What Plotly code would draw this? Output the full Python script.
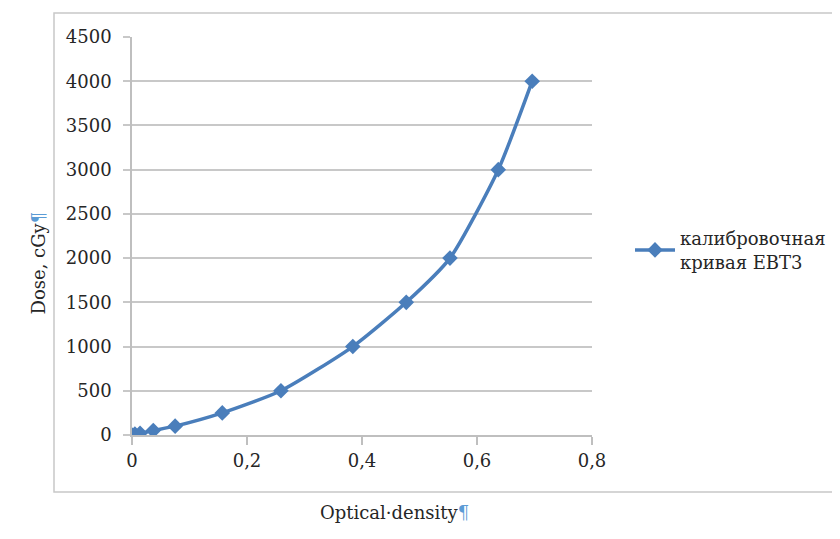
import plotly.graph_objects as go

optical_density = [0, 0.005, 0.014, 0.037, 0.075, 0.157, 0.259, 0.384, 0.477, 0.553, 0.637, 0.696]
dose_cgy = [0, 10, 20, 50, 100, 250, 500, 1000, 1500, 2000, 3000, 4000]
series_name = "калибровочная<br>кривая EBT3"
x_tickvals = [0, 0.2, 0.4, 0.6, 0.8]
x_ticktext = ["0", "0,2", "0,4", "0,6", "0,8"]
y_tickvals = [0, 500, 1000, 1500, 2000, 2500, 3000, 3500, 4000, 4500]

FONT = "DejaVu Serif"
TXT = "#262626"
BLUE = "#4a7ebb"
OFF = 8  # page body margin

fig = go.Figure()
fig.add_trace(go.Scatter(
    x=optical_density, y=dose_cgy, mode="lines+markers", name=series_name,
    line=dict(color=BLUE, width=3.5, shape="spline", smoothing=0.6),
    marker=dict(symbol="diamond", size=12, color=BLUE),
))

L, R, T, B = 132, 592, 37, 435
W, H = 840, 539

def px(xp):
    return (xp - L) / (R - L)

def py(yp):
    return (B - yp) / (B - T)

fig.update_layout(
    width=W, height=H,
    margin=dict(l=L - OFF, r=W - R + OFF, t=T - OFF, b=H - B + OFF),
    paper_bgcolor="white", plot_bgcolor="white",
    font=dict(family=FONT, size=18, color=TXT),
    showlegend=True,
    legend=dict(x=px(630), y=py(250), xanchor="left", yanchor="middle",
                font=dict(size=18, family=FONT, color=TXT),
                bgcolor="rgba(0,0,0,0)", itemwidth=40),
    xaxis=dict(range=[0, 0.8], tickvals=x_tickvals, ticktext=x_ticktext,
               tickfont=dict(family=FONT, size=18, color=TXT),
               showgrid=False, zeroline=False, showline=True, linecolor="#bfbfbf", linewidth=1.5,
               ticks="outside", ticklen=8, tickcolor="#bfbfbf", tickwidth=1.5,
               ticklabelstandoff=1),
    yaxis=dict(range=[0, 4500], tickvals=y_tickvals,
               tickfont=dict(family=FONT, size=18, color=TXT),
               showgrid=True, gridcolor="#c8c8c8", gridwidth=1.5, zeroline=False,
               showline=True, linecolor="#bfbfbf", linewidth=1.5,
               ticks="outside", ticklen=7, tickcolor="#c8c8c8", tickwidth=1.5,
               ticklabelstandoff=8),
    shapes=[dict(type="rect", xref="paper", yref="paper",
                 x0=px(54), x1=px(839), y0=py(492), y1=py(13),
                 line=dict(color="#c8c8c8", width=1.5), fillcolor="rgba(0,0,0,0)", layer="below")],
    annotations=[
        dict(text="Dose, cGy<span style='color:#5b9bd5'>¶</span>", xref="paper", yref="paper",
             x=px(25), y=py(263), textangle=-90, showarrow=False,
             font=dict(size=18, family=FONT, color=TXT)),
        dict(text="Optical·density<span style='color:#5b9bd5'>¶</span>", xref="paper", yref="paper",
             x=px(394), y=py(525), showarrow=False,
             font=dict(size=18, family=FONT, color=TXT)),
    ],
)

fig.write_html("out.html")
